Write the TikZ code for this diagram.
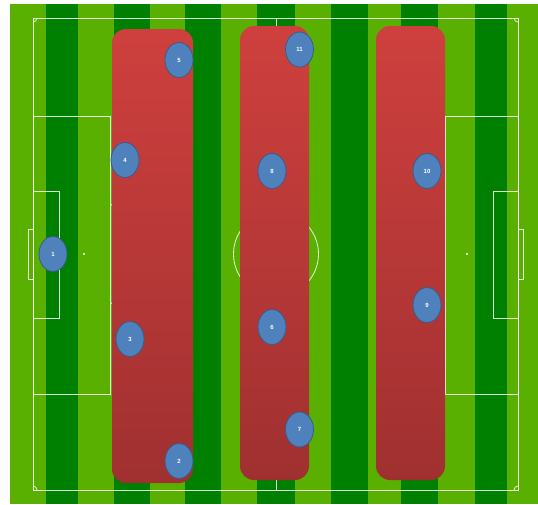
\documentclass[tikz,border=0pt]{standalone}
\usepackage{fontspec}
\setmainfont{Liberation Sans}
\usetikzlibrary{shapes.geometric}
\definecolor{grasslight}{RGB}{90,176,0}
\definecolor{grassdark}{RGB}{0,128,0}
\definecolor{zonetop}{RGB}{206,64,62}
\definecolor{zonebot}{RGB}{160,48,48}
\definecolor{playerfill}{RGB}{79,129,189}
\definecolor{playerline}{RGB}{56,93,138}
\begin{document}
\begin{tikzpicture}[x=1pt, y=-1pt,
    pitchline/.style={white, opacity=0.85, line width=0.8pt},
    zone/.style={rounded corners=14pt, top color=zonetop, bottom color=zonebot,
      inner sep=0pt, minimum height=454pt},
    player/.style={ellipse, fill=playerfill, draw=playerline, line width=0.8pt,
      minimum width=28pt, minimum height=35pt, inner sep=0pt, text=white,
      font=\fontsize{6}{7}\selectfont\bfseries}]
\useasboundingbox (0,0) rectangle (538,504);
% Grass stripes
\fill[white] (0,0) rectangle (538,504);
\foreach \xa/\xb/\col in {10/46/grasslight, 46/78/grassdark, 78/114/grasslight,
    114/150/grassdark, 150/185/grasslight, 185/221/grassdark, 221/257/grasslight,
    257/295/grassdark, 295/331/grasslight, 331/368/grassdark, 368/401/grasslight,
    401/438/grassdark, 438/475/grasslight, 475/507/grassdark, 507/538/grasslight}
  \fill[\col] (\xa,4) rectangle (\xb,504);
% Pitch lines
\draw[pitchline] (33,18) rectangle (518,490);
\draw[pitchline] (276,18) -- (276,490);
\draw[pitchline] (276,254) circle[radius=42.5];
\draw[pitchline] (33,116) rectangle (110,394);
\draw[pitchline] (33,191) rectangle (59,318);
\draw[pitchline] (28,229) rectangle (33,279);
\draw[pitchline] (445,116) rectangle (518,394);
\draw[pitchline] (493,191) rectangle (518,318);
\draw[pitchline] (518,229) rectangle (523,279);
\fill[white] (84,254) circle[radius=1.2];
\fill[white] (467,254) circle[radius=1.2];
\draw[pitchline] (84,254) ++(-62.5:56.4) arc[start angle=-62.5, end angle=62.5, radius=56.4];
\draw[pitchline] (467,254) ++(113:56.4) arc[start angle=113, end angle=247, radius=56.4];
% Corners
\draw[pitchline] (37,18) arc[start angle=0, end angle=90, radius=4];
\draw[pitchline] (514,18) arc[start angle=180, end angle=90, radius=4];
\draw[pitchline] (37,490) arc[start angle=0, end angle=-90, radius=4];
\draw[pitchline] (514,490) arc[start angle=180, end angle=270, radius=4];
% Zones
\node[zone, minimum width=81pt] (defence) at (152.5,256) {};
\node[zone, minimum width=69pt] (midfield) at (274.5,253) {};
\node[zone, minimum width=69pt] (attack) at (410.5,253) {};
% Players
\node[player] (p1) at (53,254) {1};
\node[player] (p2) at (179,461) {2};
\node[player] (p3) at (130,339) {3};
\node[player] (p4) at (125,160) {4};
\node[player] (p5) at (179,60) {5};
\node[player] (p6) at (272,327) {6};
\node[player] (p7) at (299.5,429.5) {7};
\node[player] (p8) at (272,171) {8};
\node[player] (p9) at (427,305) {9};
\node[player] (p10) at (427,171) {10};
\node[player] (p11) at (299.5,49.5) {11};
\end{tikzpicture}
\end{document}
